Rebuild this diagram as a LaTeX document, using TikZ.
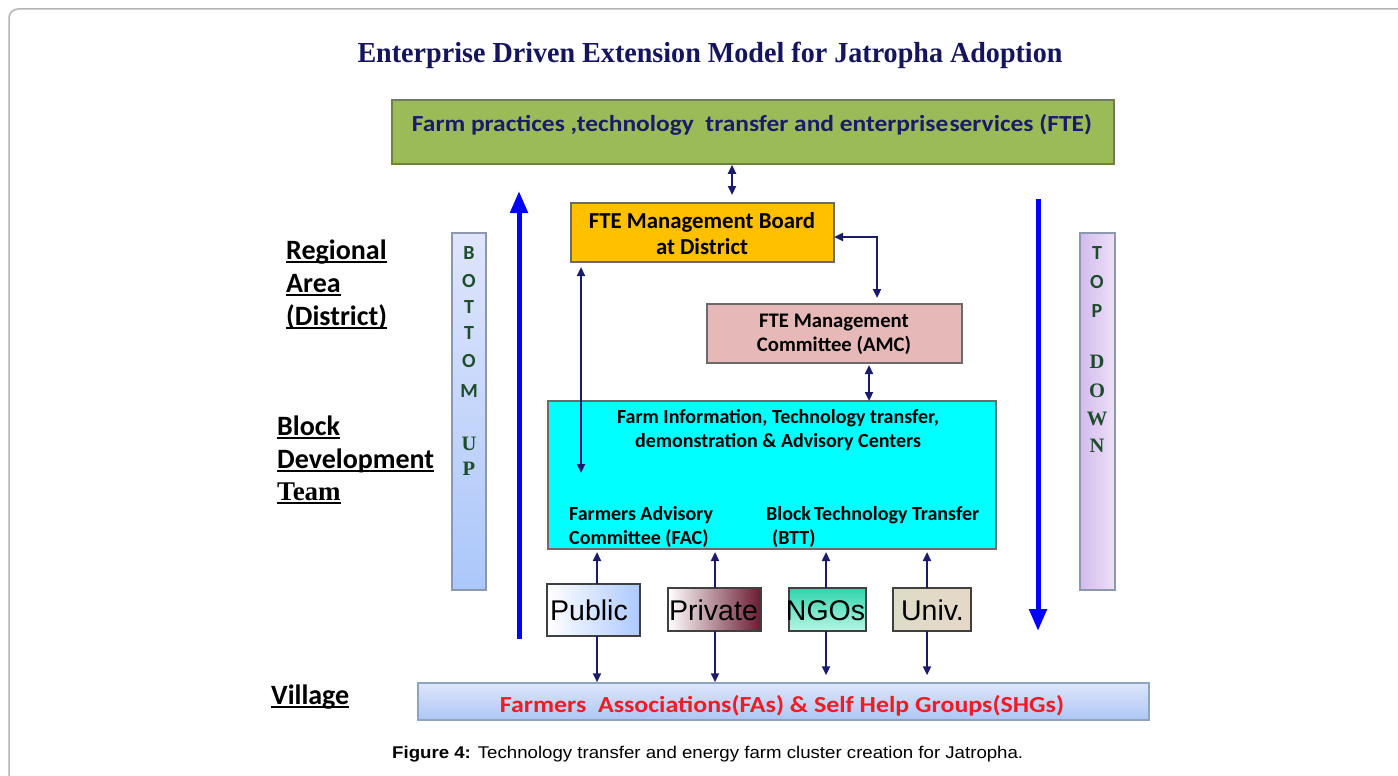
\documentclass[tikz,border=0pt]{standalone}
\usepackage{fontspec}
\setmainfont{Carlito}
\newfontfamily\timesf{Liberation Serif}
\newfontfamily\arialf{Liberation Sans}
\usetikzlibrary{arrows.meta}
\newcommand\myul[1]{\setbox0=\hbox{#1}\rlap{\rule[-4pt]{\wd0}{1.8pt}}\box0}
\definecolor{navy}{HTML}{1C1A6B}
\definecolor{titlenavy}{HTML}{15155E}
\definecolor{fteg}{HTML}{9BBB59}
\definecolor{fteborder}{HTML}{6E7F4A}
\definecolor{boardfill}{HTML}{FFC000}
\definecolor{amcfill}{HTML}{E6B9B8}
\definecolor{cyanfill}{HTML}{00FFFF}
\definecolor{boxborder}{HTML}{6B6B6B}
\definecolor{barletter}{HTML}{1E4D2B}
\definecolor{redtext}{HTML}{EE1C25}
\definecolor{pubblue}{HTML}{ADC9FF}
\definecolor{privmaroon}{HTML}{6A1B32}
\definecolor{ngotop}{HTML}{30D4AC}
\definecolor{ngobot}{HTML}{B6F6E4}
\definecolor{univl}{HTML}{DDDCC6}
\definecolor{univr}{HTML}{E6D8C8}
\definecolor{villtop}{HTML}{DDE6FA}
\definecolor{villbot}{HTML}{AEC6F5}
\definecolor{villborder}{HTML}{8FA3C3}
\definecolor{butop}{HTML}{DFE5FB}
\definecolor{bubot}{HTML}{ABC7FA}
\definecolor{tdl}{HTML}{D2BBED}
\definecolor{tdr}{HTML}{EEE0F8}
\definecolor{barborder}{HTML}{8C98AE}
\definecolor{framegray}{HTML}{B4B4B4}
\tikzset{
  box/.style={draw=boxborder, line width=1.5pt, inner sep=0pt, outer sep=0pt},
  smallbox/.style={draw=black!75, line width=1.3pt, inner sep=0pt, outer sep=0pt},
  bar/.style={draw=barborder, line width=1.5pt, inner sep=0pt, outer sep=0pt, minimum width=34pt, minimum height=357pt},
  conn/.style={draw=navy, line width=2.2pt, {Triangle[length=9pt,width=8pt]}-{Triangle[length=9pt,width=8pt]}},
  oneway/.style={draw=navy, line width=2.2pt, -{Triangle[length=9pt,width=8pt]}},
  bigarrow/.style={draw=blue, line width=5pt, -{Triangle[length=22pt,width=17pt]}},
  lefttext/.style={font=\bfseries\fontsize{28}{30}\selectfont, anchor=base west, inner sep=0pt},
  barlet/.style={font=\bfseries\fontsize{20}{22}\selectfont, text=barletter, inner sep=0pt, anchor=base},
  barlets/.style={font=\timesf\bfseries\fontsize{20.5}{22}\selectfont, text=barletter, inner sep=0pt, anchor=base},
  boxtext/.style={font=\bfseries\fontsize{20}{22}\selectfont, inner sep=0pt, anchor=base},
  orgtext/.style={font=\arialf\fontsize{28.5}{30}\selectfont, inner sep=0pt, anchor=base},
}
\begin{document}
\begin{tikzpicture}[x=1pt,y=-1pt]
\useasboundingbox (0,0) rectangle (1398,776);
\fill[white] (0,0) rectangle (1398,776);
\draw[framegray, line width=1.5pt, rounded corners=9pt] (9,800) -- (9,9) -- (1420,9);

% title
\node[font=\timesf\bfseries\fontsize{29}{32}\selectfont, text=titlenavy, anchor=base, inner sep=0pt] (title) at (710,63)
  {\resizebox{705pt}{\height}{Enterprise Driven Extension Model for Jatropha Adoption}};

% top green box
\node[draw=fteborder, fill=fteg, line width=1.5pt, inner sep=0pt, minimum width=722pt, minimum height=64pt] (fte) at (753,132) {};
\node[font=\bfseries\fontsize{23}{26}\selectfont, text=navy, anchor=base, inner sep=0pt] (ftetext) at (752,131)
  {\resizebox{680pt}{\height}{Farm practices ,technology\ \ transfer and enterprise\hspace{1pt}services (FTE)}};

% management board
\node[box, fill=boardfill, minimum width=263pt, minimum height=59pt] (board) at (702.5,232.5) {};
\node[boxtext, font=\bfseries\fontsize{22.8}{24}\selectfont] (boardt1) at (702,228) {FTE Management Board};
\node[boxtext, font=\bfseries\fontsize{22.8}{24}\selectfont] (boardt2) at (702,254) {at District};

% AMC
\node[box, fill=amcfill, minimum width=255pt, minimum height=59pt] (amc) at (834.5,333.5) {};
\node[boxtext, font=\bfseries\fontsize{20.7}{22}\selectfont] (amct1) at (834,327) {FTE Management};
\node[boxtext, font=\bfseries\fontsize{20.7}{22}\selectfont] (amct2) at (834,351) {Committee (AMC)};

% cyan centre box
\node[box, fill=cyanfill, minimum width=448pt, minimum height=148pt] (fit) at (772,475) {};
\node[boxtext] (fitt1) at (778,423) {Farm Information, Technology transfer,};
\node[boxtext] (fitt2) at (778,447) {demonstration \& Advisory Centers};
\node[boxtext, anchor=base west] (fac1) at (569,520) {Farmers Advisory};
\node[boxtext, anchor=base west] (fac2) at (569,544) {Committee (FAC)};
\node[boxtext, anchor=base west] (btt1) at (766,520) {Block\hspace{3pt}Technology Transfer};
\node[boxtext, anchor=base west] (btt2) at (772,544) {(BTT)};
\coordinate (facend) at (581,473);

% organisations
\node[smallbox, left color=white, right color=pubblue, minimum width=93pt, minimum height=52pt] (pub) at (593.5,610) {};
\node[orgtext] (pubt) at (589,620) {Public};
\node[smallbox, left color=white, right color=privmaroon, middle color=privmaroon!50!white, minimum width=93pt, minimum height=43pt] (priv) at (714.5,609.5) {};
\node[orgtext] (privt) at (713.5,620) {Private};
\node[smallbox, top color=ngotop, bottom color=ngobot, minimum width=77pt, minimum height=43pt] (ngo) at (827.5,609.5) {};
\node[orgtext] (ngot) at (825.5,620) {NGOs};
\node[smallbox, left color=univl, right color=univr, minimum width=78pt, minimum height=43pt] (univ) at (932,609.5) {};
\node[orgtext] (univt) at (932.5,620) {Univ.};

% village box
\node[draw=villborder, line width=1.5pt, top color=villtop, bottom color=villbot, inner sep=0pt, minimum width=731pt, minimum height=37pt] (vill) at (783.5,701.5) {};
\node[font=\bfseries\fontsize{23}{26}\selectfont, text=redtext, anchor=base, inner sep=0pt] (villt) at (782,712)
  {\resizebox{564pt}{\height}{Farmers\ \ Associations(FAs) \& Self Help Groups(SHGs)}};

% side bars
\node[bar, top color=butop, bottom color=bubot] (bu) at (469,411.5) {};
\node[bar, left color=tdl, right color=tdr, minimum width=35pt] (td) at (1097.5,411.5) {};
\foreach \l/\y [count=\i] in {B/259,O/287,T/313,T/339,O/367,M/397}
  \node[barlet] (bu\i) at (469,\y) {\l};
\node[barlets] (buU) at (469,450) {U};
\node[barlets] (buP) at (469,475) {P};
\foreach \l/\y [count=\i] in {T/259,O/288,P/317}
  \node[barlet] (td\i) at (1097,\y) {\l};
\foreach \l/\y [count=\i] in {D/368,O/397,W/425,N/452}
  \node[barlets] (tds\i) at (1097,\y) {\l};

% big blue arrows
\coordinate (upstart) at (519,639);
\coordinate (upend) at (519,191);
\coordinate (dnstart) at (1038,199);
\coordinate (dnend) at (1038,631);
\draw[bigarrow] (upstart) -- (upend);
\draw[bigarrow] (dnstart) -- (dnend);

% left labels
\node[lefttext] (reg1) at (286,259) {\myul{Regional}};
\node[lefttext] (reg2) at (286,292) {\myul{Area}};
\node[lefttext] (reg3) at (286,325) {\myul{(District)}};
\node[lefttext] (blk1) at (277,435) {\myul{Block}};
\node[lefttext] (blk2) at (277,468) {\myul{Development}};
\node[lefttext, font=\timesf\bfseries\fontsize{27}{30}\selectfont] (blk3) at (277,500) {\myul{Team}};
\node[lefttext] (villlab) at (271,704) {\myul{Village}};

% connectors
\draw[conn] ([xshift=-21pt]fte.south) -- ([xshift=29.5pt,yshift=8pt]board.north);
\draw[conn] ([yshift=-4.5pt]board.east) -| ([xshift=42.5pt,yshift=6pt]amc.north);
\draw[conn] ([xshift=34.5pt,yshift=-2pt]amc.south) -- ([xshift=34.5pt]amc.south |- fit.north);
\draw[conn] ([xshift=-121.5pt,yshift=-5pt]board.south) -- (facend);
\draw[oneway] ([xshift=3.5pt]pub.north) -- ([xshift=3.5pt,yshift=-3pt]pub.north |- fit.south);
\draw[oneway] ([xshift=3.5pt]pub.south) -- ([xshift=3.5pt]pub.south |- vill.north);
\draw[oneway] ([xshift=0.5pt]priv.north) -- ([xshift=0.5pt,yshift=-3pt]priv.north |- fit.south);
\draw[oneway] ([xshift=0.5pt]priv.south) -- ([xshift=0.5pt]priv.south |- vill.north);
\draw[oneway] ([xshift=-1.5pt]ngo.north) -- ([xshift=-1.5pt,yshift=-3pt]ngo.north |- fit.south);
\draw[oneway] ([xshift=-1.5pt]ngo.south) -- ([xshift=-1.5pt,yshift=7pt]ngo.south |- vill.north);
\draw[oneway] ([xshift=-5pt]univ.north) -- ([xshift=-5pt,yshift=-3pt]univ.north |- fit.south);
\draw[oneway] ([xshift=-5pt]univ.south) -- ([xshift=-5pt,yshift=7pt]univ.south |- vill.north);

% caption
\node[font=\arialf\fontsize{17}{20}\selectfont, anchor=base west, inner sep=0pt] (caption) at (392,758)
  {\resizebox{631pt}{\height}{\textbf{Figure 4:} Technology transfer and energy farm cluster creation for Jatropha.}};
\end{tikzpicture}
\end{document}
